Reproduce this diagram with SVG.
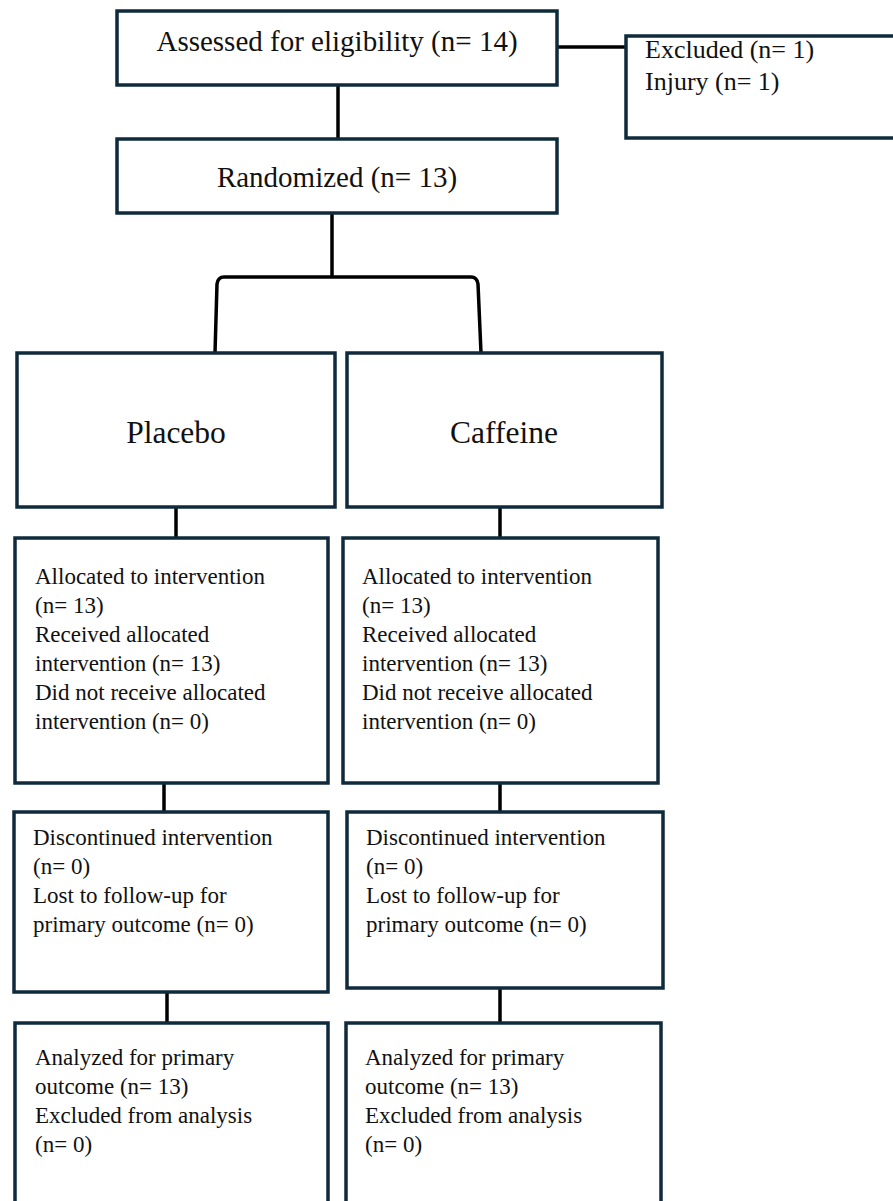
<svg xmlns="http://www.w3.org/2000/svg" width="893" height="1201" viewBox="0 0 893 1201">
<style>
.box{fill:#fff;stroke:#0f2b3b;stroke-width:3.5}
.ln{fill:none;stroke:#000;stroke-width:3.5}
text{font-family:"Liberation Serif","Times New Roman",serif;fill:#111}
.t{font-size:23px}
.x{font-size:26px}
.h{font-size:29px}
.big{font-size:31.5px}
</style>
<rect width="893" height="1201" fill="#fff"/>
<g id="connectors">
<line class="ln" x1="557" y1="47" x2="626" y2="47"/>
<line class="ln" x1="338" y1="85" x2="338" y2="139"/>
<line class="ln" x1="332" y1="213" x2="332" y2="277"/>
<path class="ln" d="M215,353 L217,284 Q218,277 224,277 L471,277 Q477,277 478,284 L481,353"/>
<line class="ln" x1="176" y1="507" x2="176" y2="538"/>
<line class="ln" x1="500" y1="507" x2="500" y2="538"/>
<line class="ln" x1="164" y1="783" x2="164" y2="812"/>
<line class="ln" x1="500" y1="783" x2="500" y2="812"/>
<line class="ln" x1="167" y1="992" x2="167" y2="1023"/>
<line class="ln" x1="500" y1="988" x2="500" y2="1023"/>
</g>
<g id="assessed">
<rect class="box" x="117" y="11" width="440" height="74"/>
<text class="h" x="337" y="51" text-anchor="middle">Assessed for eligibility (n= 14)</text>
</g>
<g id="excluded">
<rect class="box" x="626" y="36" width="280" height="102"/>
<text class="x" x="645" y="58">Excluded (n= 1)</text>
<text class="x" x="645" y="90">Injury (n= 1)</text>
</g>
<g id="randomized">
<rect class="box" x="117" y="139" width="440" height="74"/>
<text class="h" x="337" y="187" text-anchor="middle">Randomized (n= 13)</text>
</g>
<g id="placebo">
<rect class="box" x="17" y="353" width="318" height="154"/>
<text class="big" x="176" y="443" text-anchor="middle">Placebo</text>
</g>
<g id="caffeine">
<rect class="box" x="347" y="353" width="315" height="154"/>
<text class="big" x="504" y="443" text-anchor="middle">Caffeine</text>
</g>
<g id="alloc-placebo">
<rect class="box" x="15" y="538" width="313" height="245"/>
<text class="t" x="35" y="584">Allocated to intervention</text>
<text class="t" x="35" y="613">(n= 13)</text>
<text class="t" x="35" y="642">Received allocated</text>
<text class="t" x="35" y="671">intervention (n= 13)</text>
<text class="t" x="35" y="700">Did not receive allocated</text>
<text class="t" x="35" y="729">intervention (n= 0)</text>
</g>
<g id="alloc-caffeine">
<rect class="box" x="343" y="538" width="315" height="245"/>
<text class="t" x="362" y="584">Allocated to intervention</text>
<text class="t" x="362" y="613">(n= 13)</text>
<text class="t" x="362" y="642">Received allocated</text>
<text class="t" x="362" y="671">intervention (n= 13)</text>
<text class="t" x="362" y="700">Did not receive allocated</text>
<text class="t" x="362" y="729">intervention (n= 0)</text>
</g>
<g id="disc-placebo">
<rect class="box" x="14" y="812" width="314" height="180"/>
<text class="t" x="33" y="845">Discontinued intervention</text>
<text class="t" x="33" y="874">(n= 0)</text>
<text class="t" x="33" y="903">Lost to follow-up for</text>
<text class="t" x="33" y="932">primary outcome (n= 0)</text>
</g>
<g id="disc-caffeine">
<rect class="box" x="347" y="812" width="316" height="176"/>
<text class="t" x="366" y="845">Discontinued intervention</text>
<text class="t" x="366" y="874">(n= 0)</text>
<text class="t" x="366" y="903">Lost to follow-up for</text>
<text class="t" x="366" y="932">primary outcome (n= 0)</text>
</g>
<g id="analyzed-placebo">
<rect class="box" x="15" y="1023" width="313" height="200"/>
<text class="t" x="35" y="1065">Analyzed for primary</text>
<text class="t" x="35" y="1094">outcome (n= 13)</text>
<text class="t" x="35" y="1123">Excluded from analysis</text>
<text class="t" x="35" y="1152">(n= 0)</text>
</g>
<g id="analyzed-caffeine">
<rect class="box" x="346" y="1023" width="315" height="200"/>
<text class="t" x="365" y="1065">Analyzed for primary</text>
<text class="t" x="365" y="1094">outcome (n= 13)</text>
<text class="t" x="365" y="1123">Excluded from analysis</text>
<text class="t" x="365" y="1152">(n= 0)</text>
</g>
</svg>
